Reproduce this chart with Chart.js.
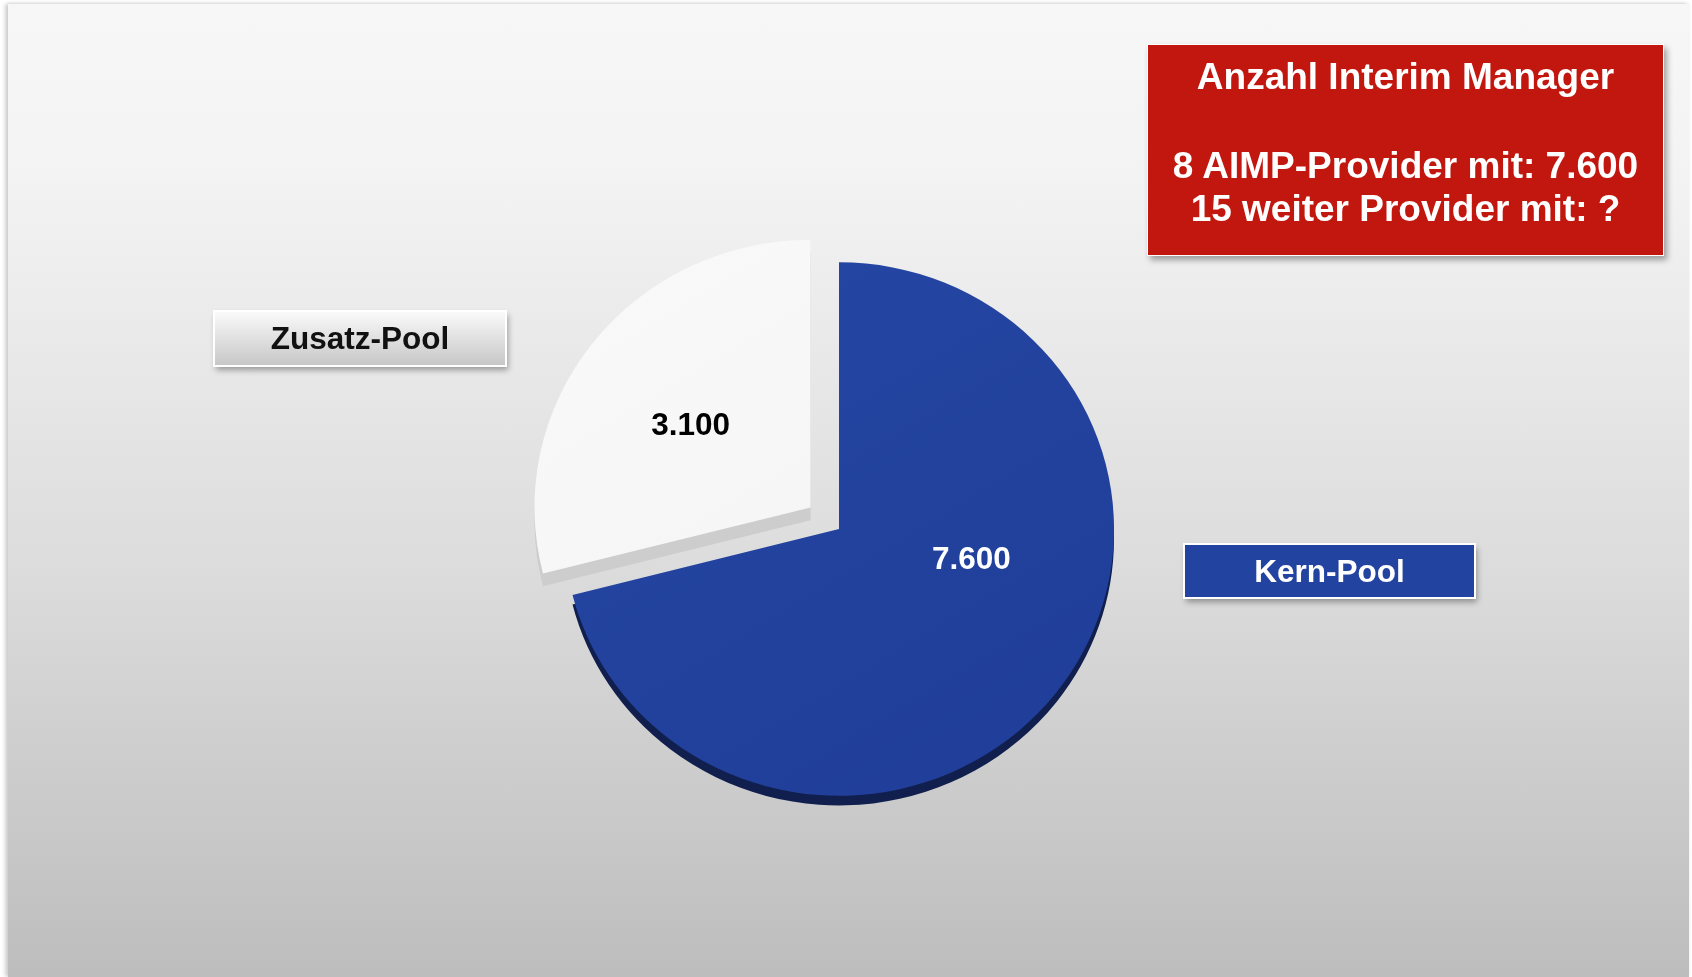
<!DOCTYPE html>
<html lang="de">
<head>
<meta charset="utf-8">
<title>Anzahl Interim Manager</title>
<script src="https://cdn.jsdelivr.net/npm/chart.js@4.4.1/dist/chart.umd.min.js"></script>
<style>
  html, body { margin: 0; padding: 0; background: #ffffff; }
  body { width: 1692px; height: 977px; position: relative; overflow: hidden; font-family: "Liberation Sans", Arial, sans-serif; }
  #panel {
    position: absolute; left: 8px; top: 4px; width: 1681px; height: 973px;
    background: linear-gradient(to bottom, #f7f7f7 0%, #f3f3f3 18%, #dcdcdc 58%, #bdbdbd 100%);
    box-shadow: -3px 0 4px rgba(0,0,0,0.18), 0 -1px 3px rgba(0,0,0,0.08);
  }
  #chartWrap { position: absolute; left: 0; top: 0; width: 1692px; height: 977px; }
  #titleBox {
    position: absolute; left: 1147px; top: 44px; width: 515px; height: 210px;
    background: #c1170f; border: 1px solid #ffffff;
    box-shadow: 3px 4px 6px rgba(0,0,0,0.35);
    color: #ffffff; font-weight: bold; font-size: 37px;
    text-align: center;
  }
  #titleInner { padding-top: 10px; }
  #titleInner div { height: 43px; line-height: 43px; white-space: nowrap; }
  #titleInner div.blank { height: 46px; }
</style>
</head>
<body>
<div id="panel"></div>
<div id="chartWrap"><canvas id="chart" width="1692" height="977"></canvas></div>
<div id="titleBox"><div id="titleInner"></div></div>
<script>
// ---- data ----
const categories = ['Kern-Pool', 'Zusatz-Pool'];
const values = [7600, 3100];
const titleLines = ['Anzahl Interim Manager', '', '8 AIMP-Provider mit: 7.600', '15 weiter Provider mit: ?'];

// ---- helpers ----
function formatDE(v) {
  return String(Math.round(v)).replace(/\B(?=(\d{3})+(?!\d))/g, '.');
}

const titleInner = document.getElementById('titleInner');
titleLines.forEach(t => {
  const d = document.createElement('div');
  d.textContent = t;
  if (!t) d.className = 'blank';
  titleInner.appendChild(d);
});

const PIE_SCALE_Y = 0.97;

const sliceStyle = [
  { from: '#2649a6', to: '#1e3b96', depth: 10, depthColor: '#101f4e', label: '#ffffff',
    angleFrac: 0.406, radiusFrac: 0.496,
    box: { cx: 1329.5, cy: 571, w: 291, h: 54, top: '#2243a0', bottom: '#2243a0', text: '#ffffff' } },
  { from: '#fbfbfb', to: '#f1f1f1', depth: 13, depthColor: '#cdcdcd', label: '#000000',
    angleFrac: 0.473, radiusFrac: 0.533,
    box: { cx: 360, cy: 338.5, w: 292, h: 55, top: '#fbfbfb', bottom: '#c6c6c6', text: '#111111' } }
];

function sliceColor(context) {
  const i = context.dataIndex;
  const s = sliceStyle[i];
  const chart = context.chart;
  const area = chart.chartArea;
  if (!area) return s.from;
  const cx = (area.left + area.right) / 2;
  const g = chart.ctx.createLinearGradient(cx - 280, area.top, cx + 280, area.bottom);
  g.addColorStop(0, s.from);
  g.addColorStop(1, s.to);
  return g;
}

// slight perspective squash + thickness (3D edge) drawn from the library's own arc elements
const depthPlugin = {
  id: 'depth',
  beforeDatasetsDraw(chart) {
    const ctx = chart.ctx;
    const meta = chart.getDatasetMeta(0);
    const cx = meta.data[0].x, cy = meta.data[0].y;
    ctx.save();
    ctx.translate(cx, cy);
    ctx.scale(1, PIE_SCALE_Y);
    ctx.translate(-cx, -cy);
    meta.data.forEach((el, i) => {
      const s = sliceStyle[i];
      const orig = el.options;
      el.options = Object.assign({}, orig, { backgroundColor: s.depthColor, borderWidth: 0 });
      ctx.save();
      ctx.translate(0, s.depth);
      el.draw(ctx);
      ctx.restore();
      el.options = orig;
    });
  },
  afterDatasetsDraw(chart) {
    chart.ctx.restore();
  }
};

// value labels inside slices
const valueLabelPlugin = {
  id: 'valueLabels',
  afterDatasetsDraw(chart) {
    const ctx = chart.ctx;
    const meta = chart.getDatasetMeta(0);
    const data = chart.data.datasets[0].data;
    meta.data.forEach((el, i) => {
      const s = sliceStyle[i];
      const p = el.getProps(['x', 'y', 'startAngle', 'endAngle', 'outerRadius'], true);
      const mid = (p.startAngle + p.endAngle) / 2;
      const off = (el.options.offset || 0) / 4;
      const a = p.startAngle + (p.endAngle - p.startAngle) * s.angleFrac;
      const r = p.outerRadius * s.radiusFrac;
      const lx = p.x + Math.cos(mid) * off + Math.cos(a) * r;
      const ly = p.y + (Math.sin(mid) * off + Math.sin(a) * r) * PIE_SCALE_Y;
      ctx.save();
      ctx.font = 'bold 31.5px "Liberation Sans", Arial, sans-serif';
      ctx.fillStyle = s.label;
      ctx.textAlign = 'center';
      ctx.textBaseline = 'middle';
      ctx.fillText(formatDE(data[i]), lx, ly);
      ctx.restore();
    });
  }
};

// category label boxes
const categoryBoxPlugin = {
  id: 'categoryBoxes',
  afterDraw(chart) {
    const ctx = chart.ctx;
    chart.data.labels.forEach((lab, i) => {
      const b = sliceStyle[i].box;
      const x = b.cx - b.w / 2, y = b.cy - b.h / 2;
      ctx.save();
      ctx.shadowColor = 'rgba(0,0,0,0.35)';
      ctx.shadowBlur = 6;
      ctx.shadowOffsetX = 2;
      ctx.shadowOffsetY = 4;
      const g = ctx.createLinearGradient(0, y, 0, y + b.h);
      g.addColorStop(0, b.top);
      g.addColorStop(1, b.bottom);
      ctx.fillStyle = g;
      ctx.fillRect(x, y, b.w, b.h);
      ctx.shadowColor = 'transparent';
      ctx.strokeStyle = '#ffffff';
      ctx.lineWidth = 2;
      ctx.strokeRect(x, y, b.w, b.h);
      ctx.font = 'bold 31.5px "Liberation Sans", Arial, sans-serif';
      ctx.fillStyle = b.text;
      ctx.textAlign = 'center';
      ctx.textBaseline = 'middle';
      ctx.fillText(lab, b.cx, b.cy + 2);
      ctx.restore();
    });
  }
};

new Chart(document.getElementById('chart'), {
  type: 'pie',
  data: {
    labels: categories,
    datasets: [{
      data: values,
      backgroundColor: sliceColor,
      borderWidth: 0,
      offset: [0, 144],
      hoverOffset: 0
    }]
  },
  options: {
    responsive: false,
    animation: false,
    radius: 275,
    layout: { padding: { left: 0, right: 14, top: 81, bottom: 0 } },
    plugins: {
      legend: { display: false },
      tooltip: { enabled: false },
      title: { display: false }
    },
    events: []
  },
  plugins: [depthPlugin, valueLabelPlugin, categoryBoxPlugin]
});
</script>
</body>
</html>
